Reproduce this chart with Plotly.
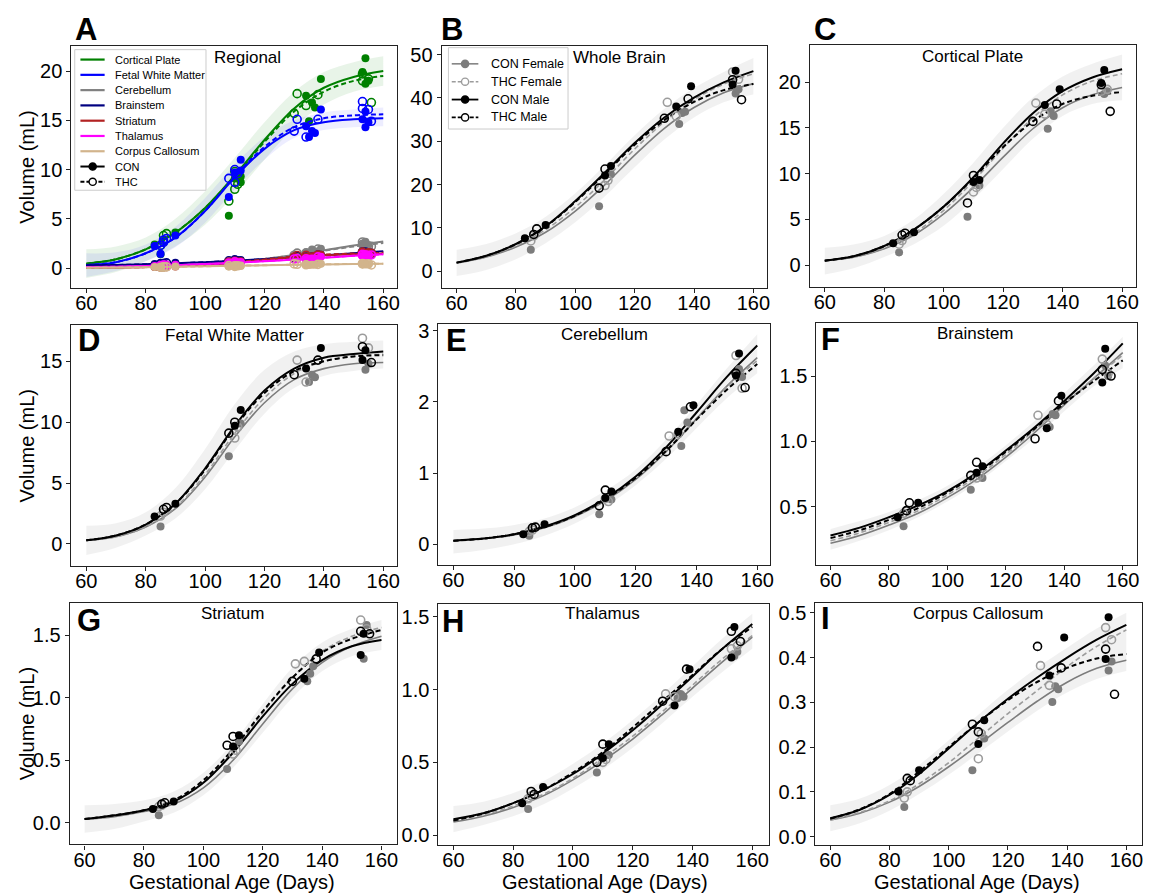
import plotly.graph_objects as go

W, H = 1160, 896
FONT = "Liberation Sans, Arial, sans-serif"

# ---------------------------------------------------------------- data
AGE_GRID = [60, 70, 80, 90, 100, 110, 120, 130, 140, 150, 160]
X_TICKS = [60, 80, 100, 120, 140, 160]

CON_F_AGE = [85, 108, 112, 135, 136, 137, 154, 155]
THC_F_AGE = [85, 86, 110, 111, 131, 134, 153, 155]
CON_M_AGE = [83, 90, 110, 112, 134, 139, 153, 154]
THC_M_AGE = [86, 87, 108, 110, 130, 138, 153, 156]

GROUP_NAMES = ["CON Female", "THC Female", "CON Male", "THC Male"]

# Whole Brain
WB_FIT_CON_F = [1.9, 3.3, 5.6, 9.0, 13.9, 20.0, 26.8, 33.0, 37.8, 41.2, 43.3]
WB_FIT_THC_F = [1.9, 3.4, 5.9, 9.6, 14.8, 21.2, 28.2, 34.5, 39.6, 43.2, 45.6]
WB_FIT_CON_M = [2.0, 3.6, 6.3, 10.4, 16.2, 22.8, 29.6, 35.5, 40.1, 43.6, 46.2]
WB_FIT_THC_M = [2.0, 3.6, 6.3, 10.3, 16.0, 22.5, 29.2, 34.9, 39.1, 41.8, 43.2]
WB_BAND_LO = [-1.1, 0.3, 2.8, 6.5, 11.3, 17.3, 24.0, 30.4, 35.5, 39.0, 40.8]
WB_BAND_HI = [5.0, 6.3, 8.8, 12.6, 18.0, 24.5, 31.4, 37.5, 42.3, 46.0, 49.2]
WB_PTS_CON_F = [5.0, 15.0, 22.4, 34.0, 36.5, 36.8, 41.0, 42.0]
WB_PTS_THC_F = [7.0, 8.2, 19.8, 21.0, 39.0, 35.8, 46.0, 44.3]
WB_PTS_CON_M = [7.6, 10.7, 22.1, 24.3, 38.0, 42.7, 43.1, 46.3]
WB_PTS_THC_M = [8.5, 9.8, 19.2, 23.6, 35.3, 39.8, 44.2, 39.6]

# Cortical Plate
CP_FIT_CON_F = [0.5, 0.9, 1.8, 3.3, 5.6, 8.5, 11.8, 14.9, 17.2, 18.6, 19.4]
CP_FIT_THC_F = [0.5, 0.9, 1.9, 3.5, 6.0, 9.2, 12.8, 16.1, 18.6, 20.1, 20.9]
CP_FIT_CON_M = [0.5, 1.0, 2.1, 3.9, 6.4, 9.6, 13.3, 16.6, 19.0, 20.5, 21.4]
CP_FIT_THC_M = [0.5, 1.0, 2.1, 3.9, 6.4, 9.5, 12.9, 15.7, 17.6, 18.5, 18.9]
CP_BAND_LO = [-1.0, -0.3, 0.9, 2.3, 4.3, 7.2, 10.5, 13.8, 16.3, 17.6, 18.0]
CP_BAND_HI = [1.9, 2.3, 3.2, 5.0, 7.8, 11.2, 15.0, 18.3, 20.6, 22.0, 23.0]
CP_PTS_CON_F = [1.4, 5.3, 8.7, 14.9, 16.8, 16.3, 18.7, 19.0]
CP_PTS_THC_F = [2.3, 2.7, 8.0, 8.5, 17.7, 16.5, 19.0, 19.2]
CP_PTS_CON_M = [2.4, 3.6, 9.1, 9.3, 17.5, 19.2, 19.9, 21.3]
CP_PTS_THC_M = [3.3, 3.5, 6.8, 9.8, 15.7, 17.6, 19.7, 16.8]

# Fetal White Matter
FWM_FIT_CON_F = [0.3, 0.6, 1.4, 2.9, 5.5, 8.8, 11.6, 13.5, 14.4, 14.8, 14.9]
FWM_FIT_THC_F = [0.3, 0.6, 1.4, 3.0, 5.7, 9.1, 12.0, 14.0, 15.0, 15.4, 15.6]
FWM_FIT_CON_M = [0.3, 0.7, 1.6, 3.3, 6.2, 9.7, 12.6, 14.4, 15.3, 15.6, 15.8]
FWM_FIT_THC_M = [0.3, 0.7, 1.6, 3.3, 6.1, 9.6, 12.4, 14.2, 15.0, 15.4, 15.5]
FWM_BAND_LO = [-0.9, -0.3, 0.7, 2.1, 4.5, 7.7, 10.7, 12.8, 13.8, 14.2, 14.4]
FWM_BAND_HI = [1.5, 1.7, 2.6, 4.6, 7.8, 11.5, 14.3, 15.8, 16.4, 16.6, 16.7]
FWM_PTS_CON_F = [1.44, 7.2, 9.9, 13.3, 13.9, 13.7, 14.3, 14.8]
FWM_PTS_THC_F = [2.3, 2.6, 8.7, 9.6, 15.1, 13.3, 16.9, 16.1]
FWM_PTS_CON_M = [2.25, 3.3, 9.7, 11.0, 14.4, 16.1, 15.1, 15.9]
FWM_PTS_THC_M = [2.85, 3.0, 9.1, 10.0, 13.9, 15.1, 16.2, 14.9]

# Cerebellum
CB_FIT_CON_F = [0.05, 0.08, 0.13, 0.23, 0.39, 0.61, 0.91, 1.30, 1.76, 2.22, 2.62]
CB_FIT_THC_F = [0.05, 0.08, 0.14, 0.24, 0.40, 0.63, 0.93, 1.32, 1.77, 2.21, 2.58]
CB_FIT_CON_M = [0.05, 0.08, 0.14, 0.25, 0.41, 0.64, 0.95, 1.36, 1.85, 2.35, 2.79]
CB_FIT_THC_M = [0.05, 0.08, 0.14, 0.24, 0.40, 0.63, 0.93, 1.31, 1.75, 2.17, 2.53]
CB_BAND_LO = [-0.13, -0.08, 0.0, 0.12, 0.29, 0.53, 0.83, 1.20, 1.63, 2.05, 2.40]
CB_BAND_HI = [0.20, 0.22, 0.27, 0.36, 0.52, 0.75, 1.05, 1.47, 1.96, 2.47, 2.95]
CB_PTS_CON_F = [0.12, 0.42, 0.63, 1.38, 1.88, 1.71, 2.46, 2.35]
CB_PTS_THC_F = [0.18, 0.20, 0.64, 0.60, 1.52, 1.55, 2.65, 2.19]
CB_PTS_CON_M = [0.14, 0.28, 0.65, 0.74, 1.58, 1.95, 2.37, 2.68]
CB_PTS_THC_M = [0.23, 0.24, 0.54, 0.76, 1.30, 1.93, 2.40, 2.20]

# Brainstem
BS_FIT_CON_F = [0.22, 0.28, 0.36, 0.45, 0.57, 0.71, 0.88, 1.07, 1.28, 1.48, 1.68]
BS_FIT_THC_F = [0.24, 0.30, 0.38, 0.47, 0.59, 0.73, 0.90, 1.09, 1.29, 1.48, 1.66]
BS_FIT_CON_M = [0.28, 0.34, 0.42, 0.51, 0.62, 0.76, 0.93, 1.11, 1.31, 1.52, 1.75]
BS_FIT_THC_M = [0.26, 0.32, 0.40, 0.49, 0.61, 0.75, 0.92, 1.10, 1.29, 1.46, 1.62]
BS_BAND_LO = [0.17, 0.24, 0.32, 0.42, 0.54, 0.68, 0.85, 1.03, 1.23, 1.42, 1.56]
BS_BAND_HI = [0.33, 0.39, 0.46, 0.55, 0.66, 0.80, 0.97, 1.16, 1.37, 1.58, 1.80]
BS_PTS_CON_F = [0.35, 0.63, 0.72, 1.11, 1.21, 1.20, 1.58, 1.50]
BS_PTS_THC_F = [0.45, 0.47, 0.72, 0.74, 1.20, 1.13, 1.63, 1.52]
BS_PTS_CON_M = [0.42, 0.53, 0.76, 0.81, 1.10, 1.35, 1.45, 1.71]
BS_PTS_THC_M = [0.47, 0.53, 0.74, 0.84, 1.02, 1.31, 1.55, 1.50]

# Striatum
ST_FIT_CON_F = [0.03, 0.05, 0.09, 0.15, 0.28, 0.50, 0.79, 1.07, 1.28, 1.41, 1.49]
ST_FIT_THC_F = [0.03, 0.06, 0.10, 0.17, 0.32, 0.57, 0.88, 1.16, 1.37, 1.49, 1.56]
ST_FIT_CON_M = [0.03, 0.06, 0.10, 0.17, 0.32, 0.56, 0.85, 1.11, 1.30, 1.41, 1.46]
ST_FIT_THC_M = [0.03, 0.06, 0.10, 0.18, 0.34, 0.59, 0.89, 1.16, 1.36, 1.47, 1.54]
ST_BAND_LO = [-0.08, -0.05, 0.01, 0.08, 0.22, 0.44, 0.72, 1.00, 1.21, 1.33, 1.38]
ST_BAND_HI = [0.14, 0.15, 0.18, 0.25, 0.40, 0.64, 0.95, 1.24, 1.44, 1.55, 1.62]
ST_PTS_CON_F = [0.06, 0.43, 0.65, 1.13, 1.19, 1.25, 1.31, 1.58]
ST_PTS_THC_F = [0.13, 0.14, 0.55, 0.58, 1.27, 1.29, 1.62, 1.55]
ST_PTS_CON_M = [0.11, 0.17, 0.61, 0.70, 1.15, 1.36, 1.34, 1.51]
ST_PTS_THC_M = [0.15, 0.16, 0.62, 0.69, 1.13, 1.31, 1.53, 1.51]

# Thalamus
TH_FIT_CON_F = [0.09, 0.13, 0.19, 0.27, 0.38, 0.51, 0.66, 0.83, 1.01, 1.19, 1.36]
TH_FIT_THC_F = [0.10, 0.14, 0.20, 0.28, 0.39, 0.53, 0.68, 0.85, 1.03, 1.21, 1.37]
TH_FIT_CON_M = [0.11, 0.15, 0.22, 0.31, 0.42, 0.56, 0.72, 0.90, 1.09, 1.28, 1.45]
TH_FIT_THC_M = [0.10, 0.15, 0.22, 0.31, 0.43, 0.57, 0.74, 0.92, 1.10, 1.28, 1.43]
TH_BAND_LO = [0.02, 0.07, 0.13, 0.21, 0.32, 0.45, 0.60, 0.77, 0.95, 1.12, 1.28]
TH_BAND_HI = [0.20, 0.23, 0.29, 0.37, 0.49, 0.63, 0.79, 0.97, 1.16, 1.35, 1.52]
TH_PTS_CON_F = [0.18, 0.43, 0.55, 0.94, 0.97, 0.95, 1.23, 1.26]
TH_PTS_THC_F = [0.25, 0.27, 0.50, 0.52, 0.97, 0.95, 1.28, 1.30]
TH_PTS_CON_M = [0.22, 0.33, 0.53, 0.625, 0.89, 1.14, 1.22, 1.43]
TH_PTS_THC_M = [0.30, 0.28, 0.50, 0.625, 0.92, 1.14, 1.40, 1.33]

# Corpus Callosum
CC_FIT_CON_F = [0.037, 0.052, 0.077, 0.112, 0.156, 0.205, 0.255, 0.303, 0.345, 0.376, 0.394]
CC_FIT_THC_F = [0.037, 0.054, 0.080, 0.118, 0.165, 0.220, 0.275, 0.327, 0.380, 0.425, 0.462]
CC_FIT_CON_M = [0.041, 0.060, 0.093, 0.140, 0.197, 0.255, 0.308, 0.356, 0.400, 0.440, 0.473]
CC_FIT_THC_M = [0.040, 0.061, 0.095, 0.145, 0.200, 0.255, 0.305, 0.346, 0.377, 0.398, 0.408]
CC_BAND_LO = [0.012, 0.030, 0.058, 0.095, 0.138, 0.186, 0.235, 0.282, 0.322, 0.352, 0.370]
CC_BAND_HI = [0.070, 0.085, 0.115, 0.160, 0.215, 0.272, 0.328, 0.378, 0.422, 0.465, 0.500]
CC_PTS_CON_F = [0.066, 0.148, 0.219, 0.301, 0.336, 0.329, 0.371, 0.391]
CC_PTS_THC_F = [0.086, 0.100, 0.174, 0.230, 0.382, 0.338, 0.467, 0.440]
CC_PTS_CON_M = [0.101, 0.148, 0.207, 0.260, 0.360, 0.445, 0.397, 0.490]
CC_PTS_THC_M = [0.130, 0.125, 0.251, 0.234, 0.425, 0.377, 0.419, 0.318]

# Panel A: sex-pooled fits per region
A_CP_CON = [0.45, 0.9, 1.9, 3.6, 6.1, 9.4, 13.0, 16.2, 18.3, 19.4, 20.0]
A_CP_THC = [0.45, 0.9, 1.9, 3.6, 6.1, 9.3, 12.8, 15.9, 17.9, 19.0, 19.5]
A_FWM_CON = [0.3, 0.6, 1.5, 3.1, 5.8, 9.2, 12.1, 14.0, 14.8, 15.1, 15.2]
A_FWM_THC = [0.3, 0.6, 1.5, 3.1, 5.8, 9.3, 12.3, 14.3, 15.2, 15.5, 15.6]
A_CB_CON = [0.05, 0.08, 0.14, 0.24, 0.40, 0.62, 0.93, 1.33, 1.80, 2.28, 2.70]
A_CB_THC = [0.05, 0.08, 0.14, 0.24, 0.40, 0.63, 0.93, 1.31, 1.76, 2.19, 2.55]
A_BS_CON = [0.25, 0.31, 0.39, 0.48, 0.60, 0.74, 0.91, 1.09, 1.30, 1.50, 1.72]
A_BS_THC = [0.25, 0.31, 0.39, 0.48, 0.60, 0.74, 0.91, 1.09, 1.29, 1.47, 1.64]
A_ST_CON = [0.03, 0.05, 0.10, 0.16, 0.30, 0.53, 0.82, 1.09, 1.29, 1.41, 1.48]
A_ST_THC = [0.03, 0.06, 0.10, 0.17, 0.33, 0.58, 0.88, 1.16, 1.36, 1.48, 1.55]
A_TH_CON = [0.10, 0.14, 0.21, 0.29, 0.40, 0.54, 0.69, 0.87, 1.05, 1.24, 1.41]
A_TH_THC = [0.10, 0.14, 0.21, 0.30, 0.41, 0.55, 0.71, 0.89, 1.07, 1.25, 1.40]
A_CC_CON = [0.040, 0.056, 0.085, 0.126, 0.177, 0.230, 0.280, 0.330, 0.372, 0.408, 0.433]
A_CC_THC = [0.038, 0.057, 0.087, 0.131, 0.182, 0.237, 0.290, 0.337, 0.379, 0.412, 0.435]
A_CP_BAND_LO = [-1.0, -0.4, 0.7, 2.2, 4.4, 7.5, 11.0, 14.3, 16.6, 17.9, 18.5]
A_CP_BAND_HI = [1.9, 2.2, 3.1, 5.0, 7.8, 11.2, 14.8, 17.9, 19.9, 20.9, 21.5]
A_FWM_BAND_LO = [-0.9, -0.3, 0.7, 2.1, 4.6, 8.0, 11.0, 13.2, 14.0, 14.3, 14.4]
A_FWM_BAND_HI = [1.5, 1.6, 2.4, 4.2, 7.1, 10.5, 13.3, 15.0, 15.8, 16.1, 16.3]

REGION_NAMES = ["Cortical Plate", "Fetal White Matter", "Cerebellum", "Brainstem",
                "Striatum", "Thalamus", "Corpus Callosum"]
REGION_COLORS = ["#008000", "#0000ff", "#808080", "#000080", "#b22222", "#ff00ff", "#d2b48c"]

# ---------------------------------------------------------------- helpers
def fx(px):
    return px / W


def fy(py):
    return 1 - py / H


DASH = "5px,3px"
GROUP_AGES = [CON_F_AGE, THC_F_AGE, CON_M_AGE, THC_M_AGE]
GROUP_STYLE = [
    dict(color="#7c7c7c", width=1.6, dash="solid", symbol="circle"),
    dict(color="#9c9c9c", width=1.6, dash=DASH, symbol="circle-open"),
    dict(color="#000000", width=2.0, dash="solid", symbol="circle"),
    dict(color="#000000", width=2.0, dash=DASH, symbol="circle-open"),
]

# panel frames in pixels: (left, right, top, bottom), x range, y range, dtick, fmt
PANELS = {
    "A": dict(frame=(71.7, 398, 41.7, 285), xr=(55, 164.5), yr=(-2.0, 22.5), dt=5, fmt="d"),
    "B": dict(frame=(443.3, 770, 41.7, 285), xr=(55, 164.7), yr=(-3.8, 51.9), dt=10, fmt="d"),
    "C": dict(frame=(812.7, 1140, 40.7, 284), xr=(55, 164.7), yr=(-2.35, 24.0), dt=5, fmt="d"),
    "D": dict(frame=(71.7, 398, 322.3, 565.7), xr=(55, 164.5), yr=(-1.83, 18.0), dt=5, fmt="d"),
    "E": dict(frame=(440, 773, 321.7, 564.3), xr=(55.1, 164.3), yr=(-0.29, 3.09), dt=1, fmt="d"),
    "F": dict(frame=(819.3, 1141, 320, 564.3), xr=(55.2, 164.9), yr=(0.055, 1.91), dt=0.5, fmt=".1f"),
    "G": dict(frame=(70, 398, 602.7, 846), xr=(55, 165.1), yr=(-0.172, 1.756), dt=0.5, fmt=".1f"),
    "H": dict(frame=(440, 771.7, 603.3, 846.7), xr=(55, 165.6), yr=(-0.068, 1.59), dt=0.5, fmt=".1f"),
    "I": dict(frame=(818.3, 1146, 602.7, 846.7), xr=(55, 165.3), yr=(-0.019, 0.522), dt=0.1, fmt=".1f"),
}
ORDER = list(PANELS.keys())

SEX_PANELS = {
    "B": ("Whole Brain", [WB_FIT_CON_F, WB_FIT_THC_F, WB_FIT_CON_M, WB_FIT_THC_M],
          [WB_PTS_CON_F, WB_PTS_THC_F, WB_PTS_CON_M, WB_PTS_THC_M], WB_BAND_LO, WB_BAND_HI),
    "C": ("Cortical Plate", [CP_FIT_CON_F, CP_FIT_THC_F, CP_FIT_CON_M, CP_FIT_THC_M],
          [CP_PTS_CON_F, CP_PTS_THC_F, CP_PTS_CON_M, CP_PTS_THC_M], CP_BAND_LO, CP_BAND_HI),
    "D": ("Fetal White Matter", [FWM_FIT_CON_F, FWM_FIT_THC_F, FWM_FIT_CON_M, FWM_FIT_THC_M],
          [FWM_PTS_CON_F, FWM_PTS_THC_F, FWM_PTS_CON_M, FWM_PTS_THC_M], FWM_BAND_LO, FWM_BAND_HI),
    "E": ("Cerebellum", [CB_FIT_CON_F, CB_FIT_THC_F, CB_FIT_CON_M, CB_FIT_THC_M],
          [CB_PTS_CON_F, CB_PTS_THC_F, CB_PTS_CON_M, CB_PTS_THC_M], CB_BAND_LO, CB_BAND_HI),
    "F": ("Brainstem", [BS_FIT_CON_F, BS_FIT_THC_F, BS_FIT_CON_M, BS_FIT_THC_M],
          [BS_PTS_CON_F, BS_PTS_THC_F, BS_PTS_CON_M, BS_PTS_THC_M], BS_BAND_LO, BS_BAND_HI),
    "G": ("Striatum", [ST_FIT_CON_F, ST_FIT_THC_F, ST_FIT_CON_M, ST_FIT_THC_M],
          [ST_PTS_CON_F, ST_PTS_THC_F, ST_PTS_CON_M, ST_PTS_THC_M], ST_BAND_LO, ST_BAND_HI),
    "H": ("Thalamus", [TH_FIT_CON_F, TH_FIT_THC_F, TH_FIT_CON_M, TH_FIT_THC_M],
          [TH_PTS_CON_F, TH_PTS_THC_F, TH_PTS_CON_M, TH_PTS_THC_M], TH_BAND_LO, TH_BAND_HI),
    "I": ("Corpus Callosum", [CC_FIT_CON_F, CC_FIT_THC_F, CC_FIT_CON_M, CC_FIT_THC_M],
          [CC_PTS_CON_F, CC_PTS_THC_F, CC_PTS_CON_M, CC_PTS_THC_M], CC_BAND_LO, CC_BAND_HI),
}

A_FITS = [(A_CP_CON, A_CP_THC), (A_FWM_CON, A_FWM_THC), (A_CB_CON, A_CB_THC),
          (A_BS_CON, A_BS_THC), (A_ST_CON, A_ST_THC), (A_TH_CON, A_TH_THC),
          (A_CC_CON, A_CC_THC)]
A_POINT_KEYS = ["C", "D", "E", "F", "G", "H", "I"]

fig = go.Figure()


def refs(key):
    i = ORDER.index(key) + 1
    s = "" if i == 1 else str(i)
    return "x" + s, "y" + s


def add_band(key, lo, hi, color):
    xr, yr = refs(key)
    fig.add_trace(go.Scatter(x=AGE_GRID, y=hi, mode="lines", line=dict(width=0, shape="spline"),
                             xaxis=xr, yaxis=yr, showlegend=False, hoverinfo="skip"))
    fig.add_trace(go.Scatter(x=AGE_GRID, y=lo, mode="lines", line=dict(width=0, shape="spline"),
                             fill="tonexty", fillcolor=color,
                             xaxis=xr, yaxis=yr, showlegend=False, hoverinfo="skip"))


def add_line(key, y, color, width, dash):
    xr, yr = refs(key)
    fig.add_trace(go.Scatter(x=AGE_GRID, y=y, mode="lines",
                             line=dict(color=color, width=width, dash=dash, shape="spline"),
                             xaxis=xr, yaxis=yr, showlegend=False, hoverinfo="skip"))


def add_points(key, x, y, color, symbol, size=8):
    xr, yr = refs(key)
    mk = dict(symbol=symbol, size=size, color=color)
    if symbol == "circle-open":
        mk["line"] = dict(width=1.6, color=color)
    fig.add_trace(go.Scatter(x=x, y=y, mode="markers", marker=mk,
                             xaxis=xr, yaxis=yr, showlegend=False))


# ---- Panel A
add_band("A", A_CP_BAND_LO, A_CP_BAND_HI, "rgba(0,128,0,0.09)")
add_band("A", A_FWM_BAND_LO, A_FWM_BAND_HI, "rgba(0,0,255,0.07)")
for (con, thc), col, pk in zip(A_FITS, REGION_COLORS, A_POINT_KEYS):
    pts = SEX_PANELS[pk][2]
    add_line("A", con, col, 2.0, "solid")
    add_line("A", thc, col, 2.0, DASH)
    add_points("A", CON_F_AGE + CON_M_AGE, pts[0] + pts[2], col, "circle")
    add_points("A", THC_F_AGE + THC_M_AGE, pts[1] + pts[3], col, "circle-open")

# ---- Panels B..I
for key, (title, fits, pts, lo, hi) in SEX_PANELS.items():
    add_band(key, lo, hi, "rgba(0,0,0,0.055)")
    for fit, st in zip(fits, GROUP_STYLE):
        add_line(key, fit, st["color"], st["width"], st["dash"])
    for ages, vals, st in zip(GROUP_AGES, pts, GROUP_STYLE):
        add_points(key, ages, vals, st["color"], st["symbol"])

# ---- axes
axis_style = dict(showline=True, mirror=True, linecolor="#222222", linewidth=1.3,
                  ticks="outside", ticklen=4, tickwidth=1.3, tickcolor="#222222",
                  showgrid=False, zeroline=False,
                  tickfont=dict(family=FONT, size=20, color="black"))
layout_axes = {}
for i, key in enumerate(ORDER, start=1):
    p = PANELS[key]
    l, r, t, b = p["frame"]
    s = "" if i == 1 else str(i)
    layout_axes["xaxis" + s] = dict(axis_style, domain=[fx(l), fx(r)], range=list(p["xr"]),
                                    tickvals=X_TICKS, anchor="y" + s, ticklabelstandoff=-7)
    layout_axes["yaxis" + s] = dict(axis_style, domain=[fy(b), fy(t)], range=list(p["yr"]),
                                    tick0=0, dtick=p["dt"], tickformat=p["fmt"], anchor="x" + s)

annotations = []


def text(px, py, s, size, xanchor="center", angle=0):
    annotations.append(dict(x=fx(px), y=fy(py), xref="paper", yref="paper", text=s,
                            showarrow=False, xanchor=xanchor, yanchor="middle", textangle=angle,
                            font=dict(family=FONT, size=size, color="black")))


# panel titles
TITLE_POS = {"A": (248, 53), "B": (622, 53), "C": (976, 52), "D": (235, 333), "E": (607, 332),
             "F": (979, 331), "G": (233, 613), "H": (605, 613), "I": (981, 613)}
for key, (px, py) in TITLE_POS.items():
    name = "Regional" if key == "A" else SEX_PANELS[key][0]
    text(px, py, name, 17)

# panel letters
LETTER_POS = {"A": (86.5, 25), "B": (454, 25), "C": (828, 25), "D": (89, 338), "E": (458, 338),
              "F": (833, 337), "G": (89, 620), "H": (455, 621), "I": (828, 618)}
for key, (px, py) in LETTER_POS.items():
    text(px, py, "<b>%s</b>" % key, 31)

# axis titles
for py in (163, 444, 724):
    text(27, py, "Volume (mL)", 20, angle=-90)
for px in (233, 607, 980):
    text(px, 884, "Gestational Age (Days)", 20)

# ---- legends (drawn as decoration)
shapes = []


def legend(box, row0, step, line_x, marker_x, text_x, entries, fsize, msize):
    l, r, t, b = box
    shapes.append(dict(type="rect", xref="paper", yref="paper", x0=fx(l), x1=fx(r), y0=fy(b), y1=fy(t),
                       fillcolor="rgba(255,255,255,0.8)", line=dict(color="#cccccc", width=1)))
    for j, (label, color, dash, symbol, lw) in enumerate(entries):
        py = row0 + j * step
        shapes.append(dict(type="line", xref="paper", yref="paper", x0=fx(line_x[0]), x1=fx(line_x[1]),
                           y0=fy(py), y1=fy(py), line=dict(color=color, width=lw, dash=dash)))
        if symbol is not None:
            fill = color if symbol == "circle" else "white"
            shapes.append(dict(type="circle", xref="paper", yref="paper", xsizemode="pixel",
                               ysizemode="pixel", xanchor=fx(marker_x), yanchor=fy(py),
                               x0=-msize, x1=msize, y0=-msize, y1=msize,
                               fillcolor=fill, line=dict(color=color, width=1.4)))
        text(text_x, py, label, fsize, xanchor="left")


a_entries = [(n, c, "solid", None, 2.2) for n, c in zip(REGION_NAMES, REGION_COLORS)]
a_entries += [("CON", "black", "solid", "circle", 2.0), ("THC", "black", "4px,2px", "circle-open", 2.0)]
legend((75, 206.7, 45, 186.7), 55, 15.4, (80.7, 105), 93, 113.3, a_entries, 11, 3.6)

b_entries = [(n, st["color"], "solid" if st["dash"] == "solid" else "4px,2px", st["symbol"],
              1.5 if j < 2 else 1.8) for j, (n, st) in enumerate(zip(GROUP_NAMES, GROUP_STYLE))]
legend((450, 570, 43, 125), 59.3, 18, (453.3, 480), 466.7, 491, b_entries, 12.5, 3.6)

fig.update_layout(
    width=W, height=H, margin=dict(l=0, r=0, t=0, b=0),
    paper_bgcolor="white", plot_bgcolor="white", showlegend=False,
    font=dict(family=FONT, color="black"),
    annotations=annotations, shapes=shapes, **layout_axes,
)

fig.write_html("out.html", config={"displayModeBar": False},
               post_script="document.body.style.margin='0px';")
